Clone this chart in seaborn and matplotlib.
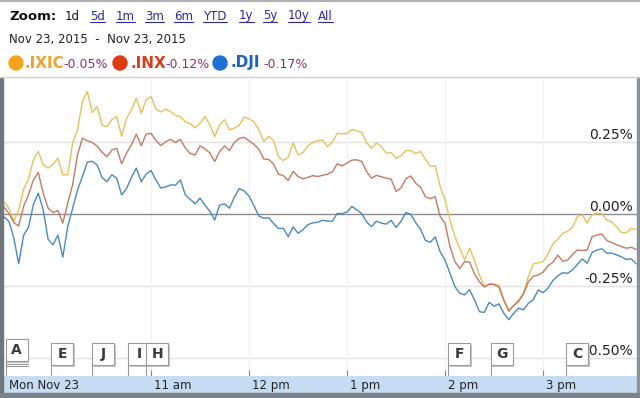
import numpy as np
import pandas as pd
import matplotlib
matplotlib.use("Agg")
import matplotlib.pyplot as plt
import matplotlib.dates as mdates
import seaborn as sns
from matplotlib.patches import Rectangle, Ellipse
from matplotlib.lines import Line2D
from matplotlib.transforms import blended_transform_factory

# ---------------------------------------------------------------------------
# data: % change vs previous close, sampled every 3 minutes from 9:30
# ---------------------------------------------------------------------------
ixic = [0.043, 0.021, -0.025, 0.015, 0.087, 0.123, 0.189, 0.218, 0.172, 0.160,
        0.174, 0.194, 0.137, 0.137, 0.247, 0.293, 0.391, 0.426, 0.353, 0.374,
        0.310, 0.304, 0.328, 0.339, 0.270, 0.333, 0.362, 0.403, 0.351, 0.397,
        0.409, 0.365,
        0.355, 0.365, 0.356, 0.343, 0.338, 0.321, 0.314, 0.300, 0.316, 0.339,
        0.311, 0.270, 0.310, 0.328, 0.293, 0.299, 0.309, 0.337, 0.331, 0.321,
        0.293, 0.253, 0.270, 0.256, 0.200, 0.186, 0.198, 0.247, 0.206, 0.214,
        0.237, 0.249, 0.255,
        0.258, 0.235, 0.250, 0.281, 0.279, 0.281, 0.294, 0.289, 0.284, 0.247,
        0.229, 0.247, 0.235, 0.212, 0.214, 0.194, 0.203, 0.221, 0.221, 0.211,
        0.218, 0.191, 0.166, 0.168, 0.096, 0.050, -0.020, -0.078, -0.118, -0.159,
        -0.118, -0.159, -0.211,
        -0.251, -0.242, -0.242, -0.247, -0.295, -0.332, -0.318, -0.297, -0.274, -0.216,
        -0.172, -0.169, -0.164, -0.139, -0.103, -0.087, -0.066, -0.059, -0.045, -0.008,
        -0.002, -0.031, -0.002, 0.003, 0.002, -0.020, -0.027, -0.043, -0.063, -0.064,
        -0.049, -0.052]

inx = [0.025, 0.003, -0.029, -0.041, 0.028, 0.068, 0.119, 0.145, 0.073, 0.021,
       0.006, 0.013, -0.031, 0.038, 0.102, 0.206, 0.264, 0.255, 0.249, 0.237,
       0.215, 0.200, 0.223, 0.229, 0.175, 0.212, 0.241, 0.278, 0.238, 0.278,
       0.281, 0.256,
       0.238, 0.252, 0.260, 0.249, 0.260, 0.230, 0.211, 0.206, 0.237, 0.227,
       0.213, 0.183, 0.218, 0.237, 0.221, 0.249, 0.263, 0.267, 0.255, 0.243,
       0.226, 0.192, 0.190, 0.175, 0.139, 0.134, 0.117, 0.149, 0.131, 0.123,
       0.128, 0.134, 0.131,
       0.135, 0.139, 0.147, 0.175, 0.168, 0.178, 0.188, 0.189, 0.183, 0.148,
       0.125, 0.135, 0.130, 0.125, 0.122, 0.079, 0.091, 0.123, 0.133, 0.108,
       0.094, 0.061, 0.054, 0.061, -0.008, -0.031, -0.112, -0.164, -0.189, -0.164,
       -0.166, -0.207, -0.234,
       -0.253, -0.243, -0.244, -0.253, -0.300, -0.337, -0.317, -0.303, -0.277, -0.235,
       -0.215, -0.211, -0.201, -0.179, -0.167, -0.142, -0.163, -0.159, -0.140, -0.124,
       -0.126, -0.124, -0.078, -0.072, -0.069, -0.091, -0.098, -0.106, -0.112, -0.118,
       -0.115, -0.122]

dji = [-0.009, -0.025, -0.082, -0.172, -0.073, -0.045, 0.034, 0.073, 0.015, -0.087,
       -0.106, -0.072, -0.149, -0.043, 0.021, 0.084, 0.131, 0.181, 0.184, 0.171,
       0.128, 0.113, 0.137, 0.125, 0.067, 0.089, 0.128, 0.160, 0.113, 0.139,
       0.152, 0.119,
       0.091, 0.095, 0.102, 0.101, 0.119, 0.067, 0.052, 0.036, 0.056, 0.032,
       0.010, -0.020, 0.032, 0.036, 0.021, 0.059, 0.089, 0.081, 0.063, 0.030,
       -0.006, -0.014, -0.012, -0.032, -0.049, -0.049, -0.078, -0.044, -0.066, -0.054,
       -0.036, -0.030, -0.028,
       -0.021, -0.024, -0.024, 0.003, 0.002, 0.008, 0.027, 0.015, 0.003, -0.027,
       -0.043, -0.024, -0.031, -0.034, -0.021, -0.046, -0.025, 0.006, 0.000, -0.029,
       -0.052, -0.091, -0.097, -0.079, -0.130, -0.159, -0.205, -0.251, -0.274, -0.280,
       -0.262, -0.297, -0.338,
       -0.341, -0.306, -0.319, -0.311, -0.344, -0.366, -0.344, -0.326, -0.332, -0.309,
       -0.297, -0.263, -0.272, -0.257, -0.230, -0.214, -0.203, -0.205, -0.193, -0.174,
       -0.155, -0.170, -0.133, -0.124, -0.120, -0.135, -0.135, -0.141, -0.148, -0.157,
       -0.155, -0.172]

symbols = [".IXIC", ".INX", ".DJI"]
last_change = ["-0.05%", "-0.12%", "-0.17%"]
line_colors = {".IXIC": "#e6c15e", ".INX": "#c27a66", ".DJI": "#4a8abb"}
dot_colors = ["#f5a21d", "#dc3b12", "#1f6fd6"]
text_colors = ["#f0a12a", "#d2401c", "#2062c4"]

y_ticks = [0.25, 0.0, -0.25, -0.50]
hour_ticks = ["11:00", "12:00", "13:00", "14:00", "15:00"]
hour_labels = ["11 am", "12 pm", "1 pm", "2 pm", "3 pm"]

flag_letters = ["A", "E", "J", "I", "H", "F", "G", "C"]
flag_times = ["09:31", "09:59", "10:24", "10:46", "10:57", "14:02", "14:28", "15:14"]

zoom_opts = ["1d", "5d", "1m", "3m", "6m", "YTD", "1y", "5y", "10y", "All"]
zoom_x = [65, 90, 116, 145, 174, 203, 239, 263, 288, 318]

day = "2015-11-23"
times = pd.date_range(f"{day} 09:30", periods=len(ixic), freq="3min")
df = pd.DataFrame({
    "time": np.tile(times, 3),
    "pct": ixic + inx + dji,
    "symbol": np.repeat(symbols, len(times)),
})

# ---------------------------------------------------------------------------
# figure
# ---------------------------------------------------------------------------
sns.set_style("white")
plt.rcParams["font.family"] = ["DejaVu Sans"]

W, H = 640, 398
fig = plt.figure(figsize=(W / 100, H / 100), dpi=100)
fig.patch.set_facecolor("white")


def px(x0, y0, x1, y1):
    return [x0 / W, 1 - y1 / H, (x1 - x0) / W, (y1 - y0) / H]


ax = fig.add_axes(px(4, 80, 637, 376))
band = fig.add_axes(px(4, 376, 637, 393))

t0 = pd.Timestamp(f"{day} 09:30")
t1 = t0 + pd.Timedelta(minutes=387.5)

# grid first so lines sit on top
for v in y_ticks:
    if v == 0:
        ax.axhline(v, color="#8c8c8c", lw=1.0, zorder=1)
    else:
        ax.axhline(v, color="#e2e2e2", lw=1.0, zorder=0)
for h in hour_ticks:
    ax.axvline(pd.Timestamp(f"{day} {h}"), color="#f2f2f2", lw=1.0, zorder=0)

sns.lineplot(data=df, x="time", y="pct", hue="symbol", palette=line_colors,
             linewidth=1.0, legend=False, ax=ax, zorder=3)

ax.set_xlim(t0, t1)
ax.set_ylim(-0.5615, 0.466)
ax.set_xlabel("")
ax.set_ylabel("")
ax.set_yticks([])
ax.set_xticks([pd.Timestamp(f"{day} {h}") for h in hour_ticks])
ax.tick_params(axis="x", bottom=True, direction="in", length=4, width=0.8,
               color="#888888", labelbottom=False)
for s in ax.spines.values():
    s.set_visible(False)

ytr = blended_transform_factory(ax.transAxes, ax.transData)
for v in y_ticks:
    ax.text(0.9935, v, f"{v:.2f}%", transform=ytr, ha="right", va="bottom",
            fontsize=10, color="#222222", zorder=5)

# event flags
ftr = blended_transform_factory(ax.transData, ax.transAxes)
bw = 13.5 / 1440.0
sh = 1.0 / 1440.0
for letter, tm in zip(flag_letters, flag_times):
    x = mdates.date2num(pd.Timestamp(f"{day} {tm}"))
    yb, hh = 0.037, 0.074
    if letter == "A":
        yb = 0.05
        for k in range(3):
            ax.plot([x, x + bw], [0.046 - k * 0.006] * 2, transform=ftr,
                    color="#999999", lw=0.8, zorder=6)
    ax.plot([x, x], [0, yb], transform=ftr, color="#999999", lw=0.8, zorder=6)
    ax.add_patch(Rectangle((x + sh, yb - 0.006), bw, hh, transform=ftr,
                           fc="#c8c8c8", ec="none", zorder=6))
    ax.add_patch(Rectangle((x, yb), bw, hh, transform=ftr, fc="white",
                           ec="#9a9a9a", lw=0.8, zorder=7))
    ax.text(x + bw / 2, yb + hh / 2, letter, transform=ftr, ha="center",
            va="center", fontsize=10, fontweight="bold", color="#3a3a3a", zorder=8)

# time band
band.set_facecolor("#c6dcf2")
band.set_xlim(mdates.date2num(t0), mdates.date2num(t1))
band.set_ylim(0, 1)
band.set_xticks([])
band.set_yticks([])
for s in band.spines.values():
    s.set_visible(False)
btr = blended_transform_factory(band.transData, band.transAxes)
band.text(mdates.date2num(t0 + pd.Timedelta(minutes=3)), 0.45, "Mon Nov 23",
          transform=btr, ha="left", va="center", fontsize=8.5, color="#222222")
for h, lab in zip(hour_ticks, hour_labels):
    xx = mdates.date2num(pd.Timestamp(f"{day} {h}") + pd.Timedelta(minutes=2))
    band.text(xx, 0.45, lab, transform=btr, ha="left", va="center",
              fontsize=8.5, color="#222222")

# header
fig.text(9 / W, 1 - 17 / H, "Zoom:", fontsize=9.5, fontweight="bold",
         color="#111111", va="center", ha="left")
link_texts = []
for opt, xx in zip(zoom_opts, zoom_x):
    col = "#111111" if opt == "1d" else "#2a2aa8"
    t = fig.text(xx / W, 1 - 16 / H, opt, fontsize=8.5, color=col,
                 va="center", ha="left")
    link_texts.append((opt, t))
fig.text(9 / W, 1 - 40 / H, "Nov 23, 2015  -  Nov 23, 2015", fontsize=8.5,
         color="#222222", va="center", ha="left")

dot_x = [16, 120, 220]
sym_x = [25, 130, 230]
chg_x = [63, 165, 263]
for i in range(3):
    fig.add_artist(Ellipse((dot_x[i] / W, 1 - 63 / H), 14 / W, 14 / H,
                           transform=fig.transFigure, color=dot_colors[i]))
    fig.text(sym_x[i] / W, 1 - 63 / H, symbols[i], fontsize=11,
             fontweight="semibold", color=text_colors[i], va="center", ha="left")
    fig.text(chg_x[i] / W, 1 - 64 / H, last_change[i], fontsize=9,
             color="#8e2f6e", va="center", ha="left")

# frame lines
fig.add_artist(Line2D([0, 1], [1 - 77 / H] * 2, transform=fig.transFigure,
                      color="#cfcfcf", lw=1))
fig.add_artist(Rectangle((0, 0), 3 / W, 1 - 78 / H, transform=fig.transFigure,
                         color="#6f777c"))
fig.add_artist(Rectangle((637 / W, 0), 3 / W, 1 - 78 / H, transform=fig.transFigure,
                         color="#8b9196"))
fig.add_artist(Rectangle((0, 0), 1, 5 / H, transform=fig.transFigure,
                         color="#7d8388"))
fig.add_artist(Line2D([0, 1], [1 - 0.5 / H] * 2, transform=fig.transFigure,
                      color="#b0b0b0", lw=1.5))

# underline the zoom links
fig.canvas.draw()
rend = fig.canvas.get_renderer()
for opt, t in link_texts:
    if opt == "1d":
        continue
    bb = t.get_window_extent(rend)
    fig.add_artist(Line2D([bb.x0 / W, bb.x1 / W], [(bb.y0 + 1) / H] * 2,
                          transform=fig.transFigure, color="#2a2aa8", lw=0.8))

fig.savefig("out.png", dpi=100)
